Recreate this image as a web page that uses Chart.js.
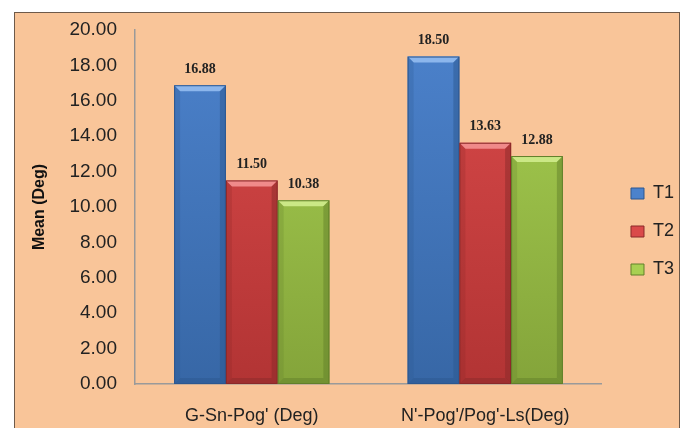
<!DOCTYPE html>
<html>
<head>
<meta charset="utf-8">
<script src="https://cdn.jsdelivr.net/npm/chart.js@4/dist/chart.umd.min.js"></script>
<style>
  body { margin: 0; background: #fff; }
  #box { position: absolute; left: 14px; top: 12px; width: 666px; height: 430px;
         background: #f9c599; border: 1px solid #6e5a4a; box-sizing: border-box; }
  #wrap { position: absolute; left: 0; top: 0; width: 684px; height: 428px; }
</style>
</head>
<body>
<div id="box"></div>
<div id="wrap"><canvas id="myChart" width="684" height="428"></canvas></div>
<script>
var categories = ["G-Sn-Pog' (Deg)", "N'-Pog'/Pog'-Ls(Deg)"];
var seriesNames = ['T1', 'T2', 'T3'];
var t1 = [16.88, 18.50];
var t2 = [11.50, 13.63];
var t3 = [10.38, 12.88];
var yTicks = [0, 2, 4, 6, 8, 10, 12, 14, 16, 18, 20];

var tops = ['#4c82cc', '#da4a4a', '#a8d052'];
var bottoms = ['#3767a6', '#b23434', '#84a43a'];
var edges = ['#2c5790', '#8a2929', '#62802a'];
var lights = ['#8cb6ec', '#f08a8a', '#cbe886'];

function barFill(i) {
    return function (context) {
        var ca = context.chart.chartArea;
        if (!ca) return tops[i];
        var g = context.chart.ctx.createLinearGradient(0, ca.top, 0, ca.bottom);
        g.addColorStop(0, tops[i]);
        g.addColorStop(1, bottoms[i]);
        return g;
    };
}

// bevel + value labels drawn on top of the bars
var barDeco = {
    id: 'barDeco',
    afterLayout: function (chart) {
        chart.legend.left += 9;
        chart.legend.right += 9;
    },
    afterDatasetsDraw: function (chart) {
        var ctx = chart.ctx;
        chart.data.datasets.forEach(function (ds, i) {
            var meta = chart.getDatasetMeta(i);
            meta.data.forEach(function (bar, j) {
                var l = bar.x - bar.width / 2, r = bar.x + bar.width / 2;
                var t = bar.y, b = bar.base, bv = 6;
                ctx.save();
                // top bevel
                ctx.fillStyle = lights[i];
                ctx.beginPath();
                ctx.moveTo(l, t); ctx.lineTo(r, t); ctx.lineTo(r - bv, t + bv); ctx.lineTo(l + bv, t + bv);
                ctx.closePath(); ctx.fill();
                // right side darker
                ctx.fillStyle = edges[i];
                ctx.globalAlpha = 0.5;
                ctx.beginPath();
                ctx.moveTo(r, t); ctx.lineTo(r, b); ctx.lineTo(r - bv, b - bv); ctx.lineTo(r - bv, t + bv);
                ctx.closePath(); ctx.fill();
                // bottom darker
                ctx.beginPath();
                ctx.moveTo(l, b); ctx.lineTo(r, b); ctx.lineTo(r - bv, b - bv); ctx.lineTo(l + bv, b - bv);
                ctx.closePath(); ctx.fill();
                // left side slightly darker
                ctx.globalAlpha = 0.25;
                ctx.beginPath();
                ctx.moveTo(l, t); ctx.lineTo(l, b); ctx.lineTo(l + bv, b - bv); ctx.lineTo(l + bv, t + bv);
                ctx.closePath(); ctx.fill();
                ctx.globalAlpha = 1;
                ctx.strokeStyle = edges[i];
                ctx.lineWidth = 1;
                ctx.strokeRect(l + 0.5, t + 0.5, r - l - 1, b - t - 1);
                // value label
                ctx.fillStyle = '#222';
                ctx.font = 'bold 14px "Liberation Serif", serif';
                ctx.textAlign = 'center';
                ctx.textBaseline = 'middle';
                ctx.fillText(ds.data[j].toFixed(2), bar.x, t - 16);
                ctx.restore();
            });
        });
    }
};

var ctx = document.getElementById('myChart').getContext('2d');
var myChart = new Chart(ctx, {
    type: 'bar',
    data: {
        labels: categories,
        datasets: [
            { label: seriesNames[0], data: t1, backgroundColor: barFill(0) },
            { label: seriesNames[1], data: t2, backgroundColor: barFill(1) },
            { label: seriesNames[2], data: t3, backgroundColor: barFill(2) }
        ]
    },
    options: {
        responsive: false,
        animation: false,
        layout: { padding: { left: 30, right: 9, top: 30, bottom: -5 } },
        datasets: { bar: { categoryPercentage: 0.665, barPercentage: 1.0, borderWidth: 0 } },
        plugins: {
            tooltip: { enabled: false },
            legend: {
                position: 'right',
                align: 'center',
                labels: {
                    color: '#222',
                    font: { family: 'Liberation Sans', size: 18 },
                    boxWidth: 13,
                    boxHeight: 11,
                    padding: 20,
                    generateLabels: function (chart) {
                        return chart.data.datasets.map(function (ds, i) {
                            return { text: ds.label, fillStyle: tops[i], strokeStyle: edges[i], lineWidth: 1, datasetIndex: i, fontColor: '#222' };
                        });
                    }
                }
            }
        },
        scales: {
            x: {
                afterFit: function (scale) { scale.height = 49; },
                grid: { display: false, drawTicks: false },
                border: { display: true, color: '#9a9a9a', width: 1.5 },
                ticks: { color: '#222', padding: 21, font: { family: 'Liberation Sans', size: 18 } }
            },
            y: {
                min: 0,
                max: 20,
                afterBuildTicks: function (scale) {
                    scale.ticks = yTicks.map(function (v) { return { value: v }; });
                },
                afterFit: function (scale) { scale.width = 105; },
                grid: { display: false, drawTicks: false },
                border: { display: true, color: '#9a9a9a', width: 1.5 },
                ticks: {
                    color: '#222',
                    padding: 18,
                    font: { family: 'Liberation Sans', size: 19 },
                    callback: function (v) { return Number(v).toFixed(2); }
                },
                title: {
                    display: true,
                    text: 'Mean (Deg)',
                    color: '#111',
                    font: { family: 'Liberation Sans', size: 16, weight: 'bold' },
                    padding: { top: 0, bottom: 17 }
                }
            }
        }
    },
    plugins: [barDeco]
});
</script>
</body>
</html>
